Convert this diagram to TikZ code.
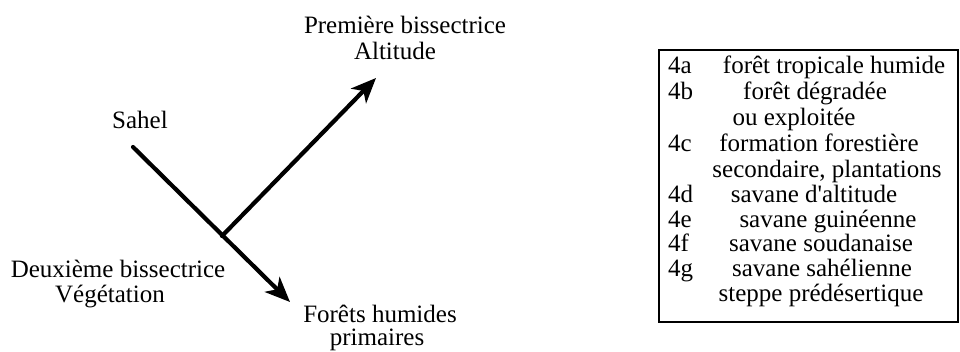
\documentclass[tikz,border=0pt]{standalone}
\usepackage{fontspec}
\setmainfont{Liberation Serif}
\usetikzlibrary{arrows.meta}
\begin{document}
\begin{tikzpicture}[x=1pt,y=-1pt,
  lbl/.style={inner sep=0pt,font=\fontsize{25}{26}\selectfont},
  axisline/.style={line width=4.2pt,line cap=round,-{Stealth[length=25pt,width=21pt,inset=7pt]}},
  legendbox/.style={draw,line width=1.3pt}]
\useasboundingbox (0,0) rectangle (960,351);
% axes
\coordinate (sahelEnd) at (133,147);
\coordinate (forTip) at (290,302);
\coordinate (junc) at (222,236);
\coordinate (altTip) at (376,78);
\draw[axisline] (sahelEnd) -- (forTip);
\draw[axisline] (junc) -- (altTip);
% labels
\node[lbl,anchor=base] (sahel) at (140,128) {Sahel};
\node[lbl,anchor=base] (prem) at (405,33) {Première bissectrice};
\node[lbl,anchor=base] (alt) at (395,59) {Altitude};
\node[lbl,anchor=base] (deux) at (118,277) {Deuxième bissectrice};
\node[lbl,anchor=base] (veg) at (110,302) {Végétation};
\node[lbl,anchor=base] (for1) at (380,322) {Forêts humides};
\node[lbl,anchor=base] (for2) at (377,345) {primaires};
% legend box
\draw[legendbox] (659,50) rectangle (958,322);
\node[lbl,anchor=base west] (n4a) at (668,73) {4a};
\node[lbl,anchor=base] (t4a) at (834,73) {forêt tropicale humide};
\node[lbl,anchor=base west] (n4b) at (668,99) {4b};
\node[lbl,anchor=base] (t4b) at (815,99) {forêt dégradée};
\node[lbl,anchor=base] (t4b2) at (794,125) {ou exploitée};
\node[lbl,anchor=base west] (n4c) at (668,151) {4c};
\node[lbl,anchor=base] (t4c) at (819,151) {formation forestière};
\node[lbl,anchor=base] (t4c2) at (827,177) {secondaire, plantations};
\node[lbl,anchor=base west] (n4d) at (668,202) {4d};
\node[lbl,anchor=base] (t4d) at (814,202) {savane d\textquotesingle altitude};
\node[lbl,anchor=base west] (n4e) at (668,227) {4e};
\node[lbl,anchor=base] (t4e) at (828,227) {savane guinéenne};
\node[lbl,anchor=base west] (n4f) at (668,251) {4f};
\node[lbl,anchor=base] (t4f) at (821,251) {savane soudanaise};
\node[lbl,anchor=base west] (n4g) at (668,276) {4g};
\node[lbl,anchor=base] (t4g) at (822,276) {savane sahélienne};
\node[lbl,anchor=base] (t4g2) at (821,301) {steppe prédésertique};
\end{tikzpicture}
\end{document}
